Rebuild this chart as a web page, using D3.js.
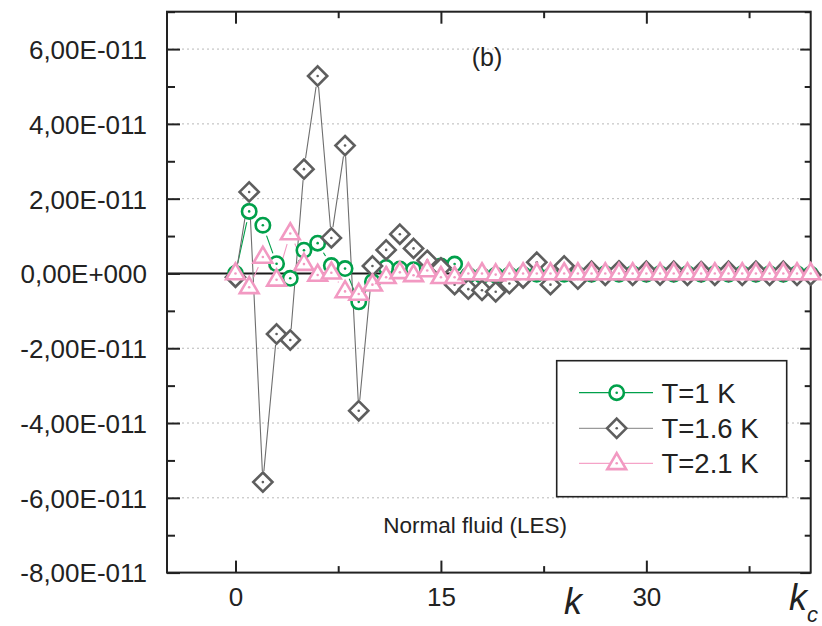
<!DOCTYPE html>
<html>
<head>
<meta charset="utf-8">
<script src="https://cdn.jsdelivr.net/npm/d3@7"></script>
<style>
  html, body { margin: 0; padding: 0; background: #fff; }
  svg { display: block; }
  text { font-family: "Liberation Sans", Arial, sans-serif; fill: #222; }
</style>
</head>
<body>
<div id="chart"></div>
<script>
// wave number index k
const kValues = [0, 1, 2, 3, 4, 5, 6, 7, 8, 9, 10, 11, 12, 13, 14, 15, 16, 17, 18, 19, 20,
  21, 22, 23, 24, 25, 26, 27, 28, 29, 30, 31, 32, 33, 34, 35, 36, 37, 38, 39, 40, 41, 42];

// values in units of 1E-11
const t1Values = [0, 1.66, 1.29, 0.26, -0.13, 0.62, 0.81, 0.21, 0.13, -0.76, -0.22,
  0.16, 0.12, 0.1, 0.15, 0.2, 0.25, -0.05, -0.06, -0.05, -0.04, -0.03, -0.02, -0.06, -0.02,
  -0.03, -0.02, -0.01, -0.02, -0.01, -0.02, -0.01, -0.02, -0.01, -0.02, -0.01, -0.02, -0.01,
  -0.02, -0.01, -0.02, -0.01, -0.02];
const t16Values = [-0.1, 2.18, -5.58, -1.62, -1.78, 2.79, 5.28, 0.95, 3.42, -3.67, 0.2,
  0.63, 1.05, 0.67, 0.35, 0.15, -0.3, -0.42, -0.45, -0.49, -0.27, -0.12, 0.3, -0.3, 0.2,
  -0.15, 0.06, -0.05, 0.07, -0.05, 0.06, -0.04, 0.06, -0.05, 0.05, -0.05, 0.06, -0.05,
  0.06, -0.05, 0.06, -0.05, -0.04];
const t21Values = [0, -0.37, 0.44, -0.17, 1.07, 0.25, -0.04, 0.02, -0.48, -0.55, -0.3,
  -0.1, 0.03, -0.05, 0.08, -0.1, -0.1, 0, 0, -0.03, 0, 0, 0, 0, 0, 0, 0, 0, 0, 0, 0, 0,
  0, 0, 0, 0, 0, 0, 0, 0, 0, 0, 0];

const seriesNames = ["T=1 K", "T=1.6 K", "T=2.1 K"];
const yTickValues = [-8, -6, -4, -2, 0, 2, 4, 6];
const yMinorValues = [-7, -5, -3, -1, 1, 3, 5, 7];
const xTickValues = [0, 15, 30];
const xMinorValues = [7.5, 22.5, 37.5];

const W = 822, H = 626;
const plotLeft = 167, plotRight = 810.7, plotTop = 11.7, plotBottom = 572.6;

const svg = d3.select("#chart").append("svg")
  .attr("width", W).attr("height", H);

const x = d3.scaleLinear().domain([-5, 42]).range([plotLeft, plotRight]);
const y = d3.scaleLinear().domain([-8, 7]).range([plotBottom, plotTop]);

const series = [
  { name: seriesNames[0], values: t1Values, shape: "circle", color: "#00a04a", line: "#00a04a" },
  { name: seriesNames[1], values: t16Values, shape: "diamond", color: "#5e5e5e", line: "#6e6e6e" },
  { name: seriesNames[2], values: t21Values, shape: "triangle", color: "#f299c2", line: "#f299c2" }
];

// grid lines (dotted)
svg.append("g").selectAll("line")
  .data(yTickValues.filter(v => v !== 0 && v !== -8))
  .join("line")
  .attr("x1", plotLeft).attr("x2", plotRight)
  .attr("y1", d => y(d)).attr("y2", d => y(d))
  .attr("stroke", "#b8b8b8").attr("stroke-width", 1)
  .attr("stroke-dasharray", "2,3");

// zero line
svg.append("line")
  .attr("x1", plotLeft).attr("x2", plotRight)
  .attr("y1", y(0)).attr("y2", y(0))
  .attr("stroke", "#1a1a1a").attr("stroke-width", 2);

function yLabel(v) {
  if (v === 0) return "0,00E+000";
  return (v < 0 ? "-" : "") + Math.abs(v).toFixed(2).replace(".", ",") + "E-011";
}

// axes
const yAxis = svg.append("g")
  .attr("transform", `translate(${plotLeft},0)`)
  .call(d3.axisLeft(y).tickValues(yTickValues).tickSize(-13).tickPadding(20).tickFormat(yLabel));
svg.append("g")
  .attr("transform", `translate(${plotLeft},0)`)
  .call(d3.axisLeft(y).tickValues(yMinorValues).tickSize(-8).tickFormat(""));
svg.append("g")
  .attr("transform", `translate(${plotRight},0)`)
  .call(d3.axisRight(y).tickValues(yTickValues).tickSize(-10.5).tickFormat(""));
svg.append("g")
  .attr("transform", `translate(${plotRight},0)`)
  .call(d3.axisRight(y).tickValues(yMinorValues).tickSize(-6).tickFormat(""));

const xAxis = svg.append("g")
  .attr("transform", `translate(0,${plotBottom})`)
  .call(d3.axisBottom(x).tickValues(xTickValues).tickSize(-12).tickPadding(15).tickFormat(d3.format("d")));
svg.append("g")
  .attr("transform", `translate(0,${plotBottom})`)
  .call(d3.axisBottom(x).tickValues(xMinorValues).tickSize(-6.5).tickFormat(""));
svg.append("g")
  .attr("transform", `translate(0,${plotTop})`)
  .call(d3.axisTop(x).tickValues(xTickValues).tickSize(-12).tickFormat(""));
svg.append("g")
  .attr("transform", `translate(0,${plotTop})`)
  .call(d3.axisTop(x).tickValues(xMinorValues).tickSize(-6.5).tickFormat(""));

svg.selectAll(".domain").remove();
svg.selectAll(".tick line").attr("stroke", "#222").attr("stroke-width", 2);

yAxis.selectAll("text")
  .attr("font-size", 26).attr("dy", "0.36em").attr("fill", "#222")
  .attr("font-family", "Liberation Sans, Arial, sans-serif");
xAxis.selectAll("text")
  .attr("font-size", 26).attr("dy", "0.71em").attr("fill", "#222")
  .attr("font-family", "Liberation Sans, Arial, sans-serif");

// frame
svg.append("rect")
  .attr("x", plotLeft).attr("y", plotTop)
  .attr("width", plotRight - plotLeft).attr("height", plotBottom - plotTop)
  .attr("fill", "none").attr("stroke", "#222").attr("stroke-width", 2);

// lines with gaps around own points
const defs = svg.append("defs");
series.forEach((s, i) => {
  const mask = defs.append("mask").attr("id", "gap" + i)
    .attr("maskUnits", "userSpaceOnUse")
    .attr("x", 0).attr("y", 0).attr("width", W).attr("height", H);
  mask.append("rect").attr("width", W).attr("height", H).attr("fill", "#fff");
  mask.selectAll("circle").data(kValues).join("circle")
    .attr("cx", d => x(d)).attr("cy", (d, j) => y(s.values[j]))
    .attr("r", 11).attr("fill", "#000");
});

const line = d3.line().x(d => x(d[0])).y(d => y(d[1]));
series.forEach((s, i) => {
  svg.append("path")
    .datum(kValues.map((k, j) => [k, s.values[j]]))
    .attr("d", line)
    .attr("fill", "none")
    .attr("stroke", s.line)
    .attr("stroke-width", 1.1)
    .attr("mask", `url(#gap${i})`);
});

function drawMarker(g, shape, color) {
  if (shape === "circle") {
    g.append("circle").attr("r", 7.2)
      .attr("fill", "#fff").attr("stroke", color).attr("stroke-width", 2.6);
  } else if (shape === "diamond") {
    g.append("path").attr("d", "M0,-9.6L9.6,0L0,9.6L-9.6,0Z")
      .attr("fill", "#fff").attr("stroke", color).attr("stroke-width", 2.6)
      .attr("stroke-linejoin", "miter");
  } else {
    g.append("path").attr("d", "M0,-10.2L9.4,5.8L-9.4,5.8Z")
      .attr("fill", "#fff").attr("stroke", color).attr("stroke-width", 2.6)
      .attr("stroke-linejoin", "miter");
  }
  g.append("circle").attr("r", 1.3).attr("fill", color);
}

series.forEach(s => {
  const g = svg.append("g");
  kValues.forEach((k, j) => {
    const m = g.append("g").attr("transform", `translate(${x(k)},${y(s.values[j])})`);
    drawMarker(m, s.shape, s.color);
  });
});

// legend
const legend = svg.append("g");
legend.append("rect")
  .attr("x", 556.7).attr("y", 360.7)
  .attr("width", 230).attr("height", 136)
  .attr("fill", "#fff").attr("stroke", "#222").attr("stroke-width", 1.6);
const legendRows = [392.7, 428.3, 463.3];
const legendLineColors = ["#00a04a", "#9a9a9a", "#f5a3c8"];
series.forEach((s, i) => {
  const ry = legendRows[i];
  legend.append("line")
    .attr("x1", 579).attr("x2", 653).attr("y1", ry).attr("y2", ry)
    .attr("stroke", legendLineColors[i]).attr("stroke-width", 1.3);
  const m = legend.append("g").attr("transform", `translate(616.7,${ry})`);
  drawMarker(m, s.shape, s.color);
  legend.append("text")
    .attr("x", 661.5).attr("y", ry + 10)
    .attr("font-size", 27.5)
    .text(s.name);
});

// annotations
svg.append("text")
  .attr("x", 487).attr("y", 66)
  .attr("text-anchor", "middle").attr("font-size", 25)
  .text("(b)");
svg.append("text")
  .attr("x", 567).attr("y", 533)
  .attr("text-anchor", "end").attr("font-size", 22.5)
  .text("Normal fluid (LES)");

svg.append("text")
  .attr("x", 564).attr("y", 614)
  .attr("font-family", "Liberation Serif, Times New Roman, serif")
  .attr("font-style", "italic").attr("font-size", 36)
  .text("k");
const kc = svg.append("text")
  .attr("x", 789).attr("y", 610)
  .attr("font-family", "Liberation Serif, Times New Roman, serif")
  .attr("font-style", "italic").attr("font-size", 36);
kc.append("tspan").text("k");
kc.append("tspan").attr("dy", 12).attr("font-size", 22).text("c");
</script>
</body>
</html>
